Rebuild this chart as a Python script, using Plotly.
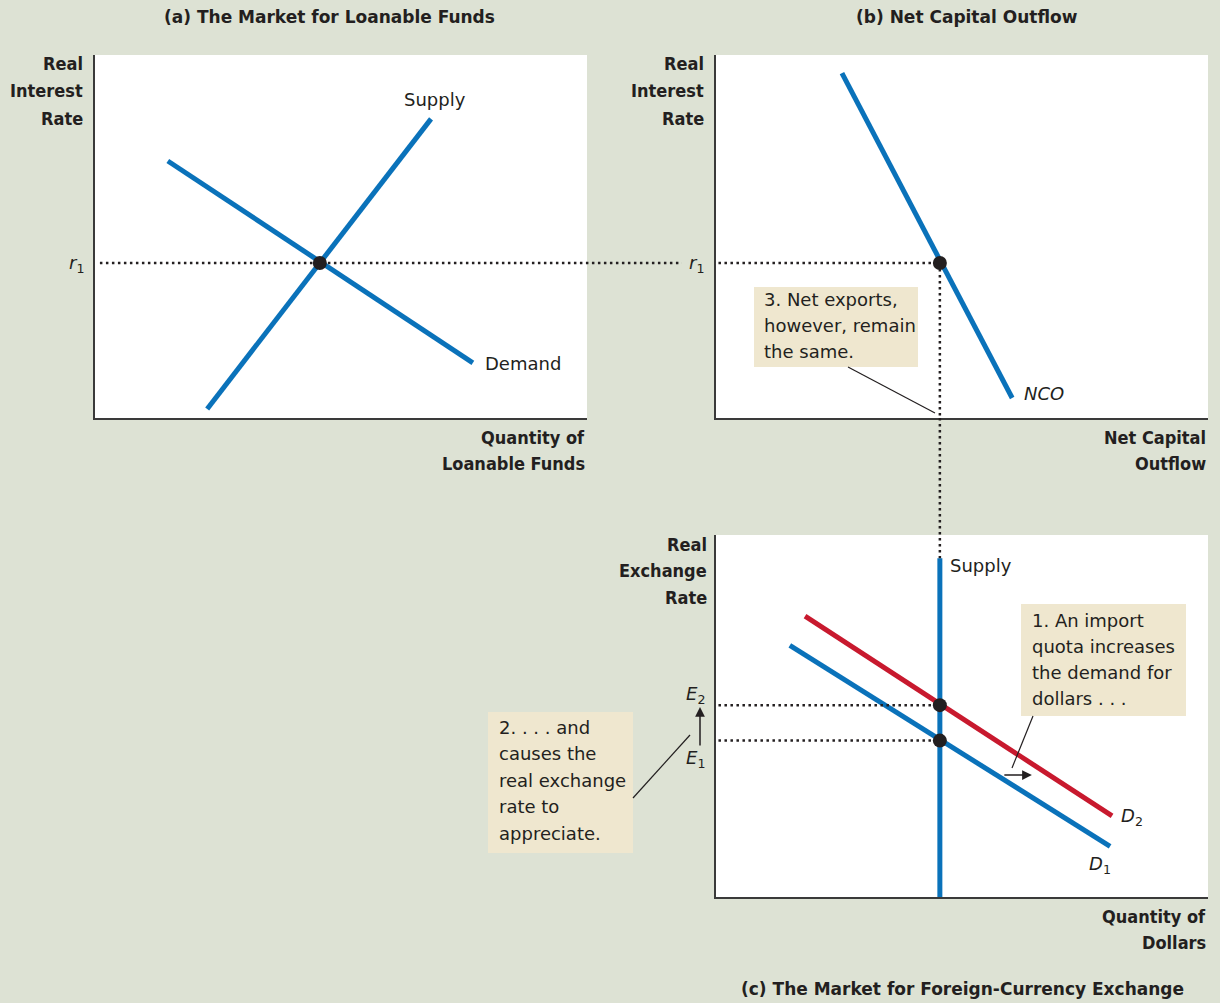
import plotly.graph_objects as go

W, H = 1220, 1003
BG = "#dde2d4"
BOX = "#efe7cf"
INK = "#231f20"
BLUE = "#0a72ba"
RED = "#c8192e"
BODY = "DejaVu Sans"
BOLD = "DejaVu Sans Condensed"

# (a) market for loanable funds (axis units 0-10)
LF_SUPPLY_Q = [2.28, 6.83]
LF_SUPPLY_R = [0.25, 8.24]
LF_DEMAND_Q = [1.48, 7.68]
LF_DEMAND_R = [7.08, 1.52]
LF_Q1 = 4.57
R1 = 4.27

# (b) net capital outflow
NCO_Q = [2.56, 6.02]
NCO_R = [9.50, 0.55]
NCO_1 = 4.55

# (c) foreign-currency exchange
FX_SUPPLY_Q = [4.55, 4.55]
FX_SUPPLY_E = [0.0, 9.36]
D1_Q = [1.50, 8.01]
D1_E = [6.95, 1.40]
D2_Q = [1.81, 8.05]
D2_E = [7.76, 2.24]
E1 = 4.32
E2 = 5.30
SHIFT_Q = [5.83, 6.42]
SHIFT_E = 3.37


def dom(a, b, total):
    return [a / total, b / total]


fig = go.Figure()

curves = [
    ("x", "y", LF_SUPPLY_Q, LF_SUPPLY_R, BLUE),
    ("x", "y", LF_DEMAND_Q, LF_DEMAND_R, BLUE),
    ("x2", "y2", NCO_Q, NCO_R, BLUE),
    ("x3", "y3", FX_SUPPLY_Q, FX_SUPPLY_E, BLUE),
    ("x3", "y3", D1_Q, D1_E, BLUE),
    ("x3", "y3", D2_Q, D2_E, RED),
]
for xa, ya, xs, ys, col in curves:
    fig.add_trace(go.Scatter(x=xs, y=ys, xaxis=xa, yaxis=ya, mode="lines",
                             line=dict(color=col, width=5), hoverinfo="skip"))

DOT = dict(color=INK, width=2.5, dash="2.5px,3.5px")

# dotted guides
fig.add_shape(type="line", xref="x domain", yref="y", x0=0.01, x1=1.193, y0=R1, y1=R1, line=DOT)
fig.add_shape(type="line", xref="x2", yref="y2", x0=0.05, x1=NCO_1, y0=R1, y1=R1, line=DOT)
fig.add_shape(type="line", xref="x2", yref="y2", x0=NCO_1, x1=NCO_1, y0=R1, y1=0, line=DOT)
fig.add_shape(type="line", xref="x3", yref="y3 domain", x0=NCO_1, x1=NCO_1,
              y0=1.323, y1=FX_SUPPLY_E[1] / 10, line=DOT)
for e in (E1, E2):
    fig.add_shape(type="line", xref="x3", yref="y3", x0=0.05, x1=FX_SUPPLY_Q[0], y0=e, y1=e, line=DOT)

# equilibrium points
for xa, ya, xs, ys in [("x", "y", [LF_Q1], [R1]), ("x2", "y2", [NCO_1], [R1]),
                       ("x3", "y3", [FX_SUPPLY_Q[0]] * 2, [E1, E2])]:
    fig.add_trace(go.Scatter(x=xs, y=ys, xaxis=xa, yaxis=ya, mode="markers",
                             marker=dict(color=INK, size=14), hoverinfo="skip"))


def P(x, y):
    return x / W, 1 - y / H


def text(s, x, y, anchor="left", size=18, bold=False, italic=False, family=None):
    px, py = P(x, y)
    fig.add_annotation(x=px, y=py, xref="paper", yref="paper", text=s, showarrow=False,
                       xanchor=anchor, yanchor="middle",
                       font=dict(family=family or (BOLD if bold else BODY), size=size, color=INK,
                                 weight="bold" if bold else "normal",
                                 style="italic" if italic else "normal"))


def lines(items, x, y0, step=26.5, **kw):
    for i, s in enumerate(items):
        text(s, x, y0 + i * step, **kw)


# titles
text("(a) The Market for Loanable Funds", 329, 17, anchor="center", size=17, bold=True, family=BODY)
text("(b) Net Capital Outflow", 967, 17, anchor="center", size=17, bold=True, family=BODY)
text("(c) The Market for Foreign-Currency Exchange", 962, 989, anchor="center", size=17,
     bold=True, family=BODY)

# axis titles
lines(["Real", "Interest", "Rate"], 85, 64, 27, anchor="right", bold=True)
lines(["Real", "Interest", "Rate"], 706, 64, 27, anchor="right", bold=True)
lines(["Real", "Exchange", "Rate"], 709, 544, 26.5, anchor="right", bold=True)
lines(["Quantity of", "Loanable Funds"], 587, 437, 27, anchor="right", bold=True)
lines(["Net Capital", "Outflow"], 1208, 437, 27, anchor="right", bold=True)
lines(["Quantity of", "Dollars"], 1208, 916, 26, anchor="right", bold=True)

# curve / level labels
text("Supply", 435, 100, anchor="center")
text("Demand", 483, 363)
text("<i>r</i><sub>1</sub>", 86, 264, anchor="right")
text("<i>r</i><sub>1</sub>", 706, 264, anchor="right")
text("NCO", 1022, 393, italic=True)
text("Supply", 948, 565)
text("<i>D</i><sub>2</sub>", 1119, 817)
text("<i>D</i><sub>1</sub>", 1087, 865)
text("<i>E</i><sub>2</sub>", 707, 695, anchor="right")
text("<i>E</i><sub>1</sub>", 707, 759, anchor="right")

# callout boxes
for x0, y0, x1, y1 in [(754, 287, 918, 367), (1021, 604, 1186, 716), (488, 712, 633, 853)]:
    a, b = P(x0, y0)
    c, d = P(x1, y1)
    fig.add_shape(type="rect", xref="paper", yref="paper", x0=a, y0=b, x1=c, y1=d,
                  fillcolor=BOX, line=dict(width=0))
lines(["3. Net exports,", "however, remain", "the same."], 762, 299, 26)
lines(["1. An import", "quota increases", "the demand for", "dollars . . ."], 1030, 620, 26.3)
lines(["2. . . . and", "causes the", "real exchange", "rate to", "appreciate."], 497, 727, 26.5)

# leader lines
for x0, y0, x1, y1 in [(848, 367, 935, 413), (1033, 716, 1012, 768), (633, 798, 690, 735)]:
    a, b = P(x0, y0)
    c, d = P(x1, y1)
    fig.add_shape(type="line", xref="paper", yref="paper", x0=a, y0=b, x1=c, y1=d,
                  line=dict(color=INK, width=1.2))

# arrows
ax, ay = P(700, 707)
fig.add_annotation(x=ax, y=ay, xref="paper", yref="paper", ax=0, ay=40, text="",
                   showarrow=True, arrowhead=2, arrowsize=1.3, arrowwidth=1.5, arrowcolor=INK)
fig.add_annotation(x=SHIFT_Q[1], y=SHIFT_E, xref="x3", yref="y3",
                   ax=SHIFT_Q[0], ay=SHIFT_E, axref="x3", ayref="y3", text="",
                   showarrow=True, arrowhead=2, arrowsize=1.3, arrowwidth=1.5, arrowcolor=INK)

AX = dict(range=[0, 10], showgrid=False, zeroline=False, showticklabels=False, ticks="",
          showline=True, linecolor="#3a3a3a", linewidth=2, fixedrange=True)

fig.update_layout(
    width=W, height=H, margin=dict(l=0, r=0, t=0, b=0),
    paper_bgcolor=BG, plot_bgcolor="white", showlegend=False,
    xaxis=dict(domain=dom(95, 587, W), anchor="y", **AX),
    yaxis=dict(domain=[1 - 418 / H, 1 - 55 / H], anchor="x", **AX),
    xaxis2=dict(domain=dom(716, 1208, W), anchor="y2", **AX),
    yaxis2=dict(domain=[1 - 418 / H, 1 - 55 / H], anchor="x2", **AX),
    xaxis3=dict(domain=dom(716, 1208, W), anchor="y3", **AX),
    yaxis3=dict(domain=[1 - 897 / H, 1 - 535 / H], anchor="x3", **AX),
)

fig.write_html("out.html", config={"displayModeBar": False},
               post_script="document.body.style.margin='0';document.body.style.overflow='hidden';")
